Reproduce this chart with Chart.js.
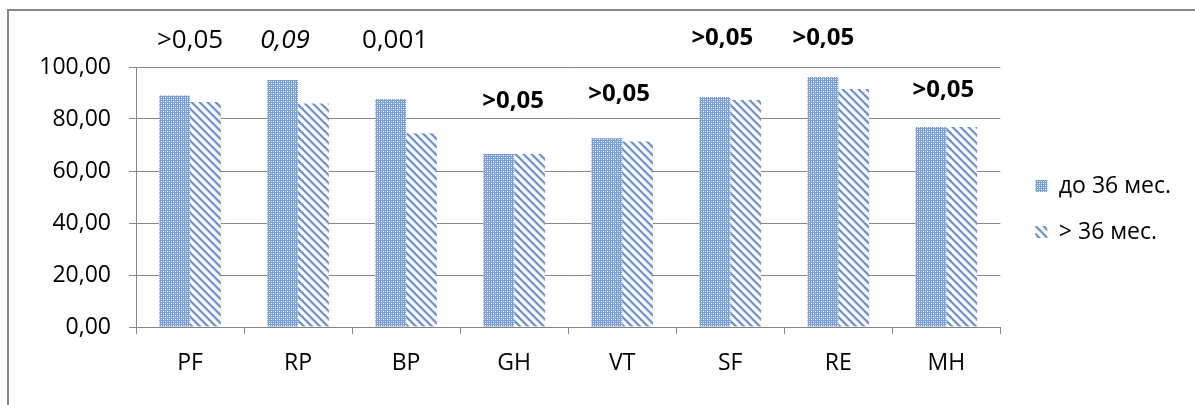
<!DOCTYPE html>
<html>
<head>
<meta charset="utf-8">
<script src="https://cdn.jsdelivr.net/npm/chart.js@4.4.1/dist/chart.umd.min.js"></script>
<style>
  body { margin: 0; background: #fff; }
</style>
</head>
<body>
<canvas id="chart" width="1195" height="405"></canvas>
<script>
// данные
const categories = ['PF', 'RP', 'BP', 'GH', 'VT', 'SF', 'RE', 'MH'];
const seriesNames = ['до 36 мес.', '> 36 мес.'];
const upTo36 = [89.0, 95.0, 87.7, 66.5, 72.6, 88.5, 96.2, 76.9];
const over36 = [86.5, 86.0, 74.5, 66.5, 71.3, 87.3, 91.5, 76.9];
const yTicks = [0, 20, 40, 60, 80, 100];
// p-значения над группами и уровень (в единицах оси Y), где стоит надпись
const pValues = ['>0,05', '0,09', '0,001', '>0,05', '>0,05', '>0,05', '>0,05', '>0,05'];
const pLevels = [110.2, 110.0, 110.0, 86.9, 89.6, 111, 111.2, 91.2];

const FONT = 'Open Sans';
const GRAY = '#868686';

function dotPattern() {
  const c = document.createElement('canvas');
  c.width = 4; c.height = 4;
  const g = c.getContext('2d');
  g.fillStyle = '#779dd7';
  g.fillRect(0, 0, 4, 4);
  g.fillStyle = '#ffffff';
  g.fillRect(1, 1, 1, 1); g.fillRect(3, 3, 1, 1);
  g.fillStyle = '#c6d6f0';
  g.fillRect(3, 1, 1, 1); g.fillRect(1, 3, 1, 1);
  return g.createPattern(c, 'repeat');
}

function stripePattern() {
  const c = document.createElement('canvas');
  c.width = 8; c.height = 8;
  const g = c.getContext('2d');
  g.fillStyle = '#ffffff';
  g.fillRect(0, 0, 8, 8);
  for (let y = 0; y < 8; y++) {
    for (let x = 0; x < 8; x++) {
      const d = ((x - y) % 8 + 8) % 8;
      if (d < 4) {
        g.fillStyle = (d === 1 || d === 2) ? '#6790d3' : '#a9c1e8';
        g.fillRect(x, y, 1, 1);
      }
    }
  }
  return g.createPattern(c, 'repeat');
}

// рамка области диаграммы (видны только верх и левый край)
const framePlugin = {
  id: 'frame',
  beforeDraw(chart) {
    const ctx = chart.ctx;
    ctx.save();
    ctx.strokeStyle = GRAY;
    ctx.lineWidth = 2;
    ctx.beginPath();
    ctx.moveTo(8, chart.height);
    ctx.lineTo(8, 10);
    ctx.lineTo(chart.width, 10);
    ctx.stroke();
    ctx.restore();
  }
};

const pLabelPlugin = {
  id: 'pLabels',
  afterDatasetsDraw(chart, args, opts) {
    const { ctx, scales: { x, y } } = chart;
    ctx.save();
    ctx.fillStyle = '#000';
    ctx.textAlign = 'center';
    ctx.textBaseline = 'middle';
    pValues.forEach((txt, i) => {
      const st = opts.styles[i];
      ctx.font = st + (st === 'bold' ? ' 24px "' : ' 26px "') + FONT + '"';
      ctx.fillText(txt, x.getPixelForValue(i) + opts.dx[i], y.getPixelForValue(pLevels[i]));
    });
    ctx.restore();
  }
};

new Chart(document.getElementById('chart'), {
  type: 'bar',
  data: {
    labels: categories,
    datasets: [
      { label: seriesNames[0], data: upTo36, backgroundColor: dotPattern(), borderWidth: 0 },
      { label: seriesNames[1], data: over36, backgroundColor: stripePattern(), borderWidth: 0 }
    ]
  },
  options: {
    responsive: false,
    animation: false,
    layout: { padding: { top: 13, right: 14, bottom: 0, left: 0 } },
    datasets: { bar: { categoryPercentage: 0.57, barPercentage: 1 } },
    plugins: {
      legend: {
        position: 'right',
        labels: {
          boxWidth: 12, boxHeight: 12, padding: 23, color: '#000',
          font: { family: FONT, size: 23 }
        }
      },
      tooltip: { enabled: false },
      pLabels: {
        styles: ['normal', 'italic', 'normal', 'bold', 'bold', 'bold', 'bold', 'bold'],
        dx: [0, -13, -11, -1, -3, -8, -15, -3]
      }
    },
    scales: {
      x: {
        grid: { display: true, drawOnChartArea: false, drawTicks: true, tickLength: 7, color: GRAY, offset: true },
        border: { display: true, color: GRAY },
        ticks: { color: '#000', padding: 16, font: { family: FONT, size: 23 } },
        afterFit: s => { s.height = 78; }
      },
      y: {
        min: 0,
        max: 100,
        afterBuildTicks: s => { s.ticks = yTicks.map(v => ({ value: v })); },
        grid: { color: GRAY, tickLength: 7, drawTicks: true },
        border: { display: true, color: GRAY },
        ticks: {
          color: '#000', padding: 18, font: { family: FONT, size: 23 },
          callback: v => v.toFixed(2).replace('.', ',')
        },
        afterFit: s => { s.width = 136; }
      },
      // пустые оси — только для отступов
      top: {
        type: 'category', position: 'top',
        ticks: { display: false }, grid: { display: false }, border: { display: false },
        afterFit: s => { s.height = 54; }
      },
      gap: {
        type: 'linear', position: 'right',
        ticks: { display: false }, grid: { display: false }, border: { display: false },
        afterFit: s => { s.width = 12; }
      }
    }
  },
  plugins: [framePlugin, pLabelPlugin]
});
</script>
</body>
</html>
